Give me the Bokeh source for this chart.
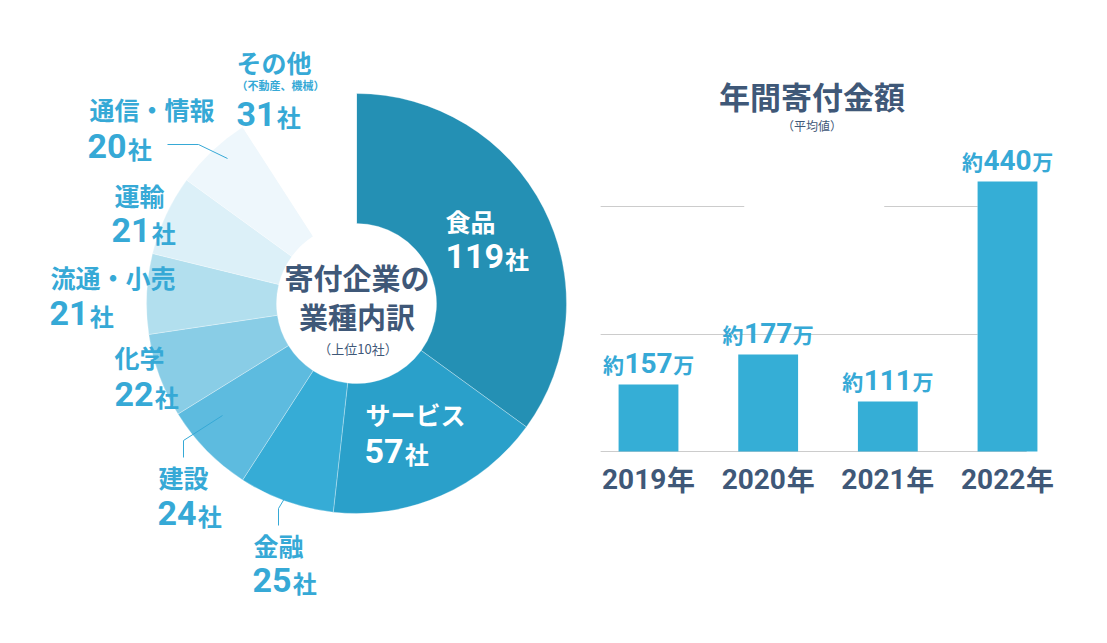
import math
from bokeh.plotting import figure
from bokeh.models import Range1d, ColumnDataSource
from bokeh.layouts import row
from bokeh.embed import file_html
from bokeh.resources import INLINE
from bokeh.core.properties import value

# ---------------- data ----------------
industries = ["食品", "サービス", "金融", "建設", "化学", "流通・小売", "運輸", "通信・情報", "その他"]
companies = [119, 57, 25, 24, 22, 21, 21, 20, 31]
other_note = "（不動産、機械）"
center_title = ["寄付企業の", "業種内訳"]
center_note = "（上位10社）"

years = ["2019", "2020", "2021", "2022"]
donation_man_yen = [157, 177, 111, 440]
bar_heights = [67, 97, 50, 270]      # bar lengths as drawn in the reference (not to scale)
grid_levels = [117, 245]
bar_title = "年間寄付金額"
bar_note = "（平均値）"

# ---------------- style ----------------
JP = value("Noto Sans CJK JP")
NUM = value("Roboto")
NAVY = "#3f5878"
BLUE = "#36a9d6"
BAR = "#35aed6"
GRID = "#cccccc"
slice_colors = ["#2490b4", "#2aa0ca", "#36acd6", "#5dbbdf", "#89cde6",
                "#b2dfee", "#dcf0f8", "#eef7fc", "#ffffff"]
H = 627
WA, WB = 580, 511
CX, CY = 356, 303
R_OUT, R_IN = 210, 80
DIG = 0.5625  # Roboto digit advance (em)
OFF = 0       # page offset of the figures in the photographed picture

# label layout (picture pixel coordinates): name-left, name-center-y, number-left, number-bottom
label_layout = [
    (445, 220, 445, 268),
    (365, 413, 364, 463),
    (253, 544, 252, 592),
    (158, 476, 157, 525),
    (114, 356, 114, 406),
    (50, 276, 49, 325),
    (114, 194, 111, 242),
    (89, 108, 87, 158),
    (236, 61, 236, 126),
]
inside = [True, True] + [False] * 7
leaders = [
    [(167, 144), (198, 144), (227, 158)],
    [(222, 415), (183, 440), (183, 457)],
    [(284, 498), (278, 508), (278, 525)],
]

def dx(X):
    return X - CX

def dy(Y):
    return CY - Y

def clean(p):
    p.axis.visible = False
    p.grid.visible = False
    p.outline_line_color = None
    p.background_fill_color = "white"
    p.border_fill_color = "white"
    p.min_border = 0

# ---------------- donut ----------------
pd_ = figure(width=WA, height=H, x_range=Range1d(OFF - CX, OFF + WA - CX),
             y_range=Range1d(CY - (OFF + H), CY - OFF), output_backend="svg",
             toolbar_location=None, min_border=0)
clean(pd_)

total = sum(companies)
starts, ends = [], []
cum = 0
for c in companies:
    starts.append(math.pi / 2 - 2 * math.pi * cum / total)
    cum += c
    ends.append(math.pi / 2 - 2 * math.pi * cum / total)
wsrc = ColumnDataSource(dict(start=starts, end=ends, color=slice_colors))
pd_.annular_wedge(x=0, y=0, inner_radius=R_IN, outer_radius=R_OUT,
                  start_angle="start", end_angle="end", direction="clock",
                  fill_color="color", line_color="white", line_width=0.6,
                  line_alpha=0.5, source=wsrc)

for pts in leaders:
    pd_.line([dx(p[0]) for p in pts], [dy(p[1]) for p in pts], line_color=BLUE, line_width=1)

tcol = ["white" if f else BLUE for f in inside]
name_src = ColumnDataSource(dict(
    x=[dx(l[0]) for l in label_layout], y=[dy(l[1]) for l in label_layout],
    text=industries, color=tcol))
pd_.text(x="x", y="y", text="text", text_color="color", source=name_src,
         text_font=JP, text_font_style="bold", text_font_size="25px",
         text_align="left", text_baseline="middle")

num_txt = [str(c) for c in companies]
num_src = ColumnDataSource(dict(
    x=[dx(l[2]) for l in label_layout], y=[dy(l[3] - 12.5) for l in label_layout],
    text=num_txt, color=tcol))
pd_.text(x="x", y="y", text="text", text_color="color", source=num_src,
         text_font=NUM, text_font_style="bold", text_font_size="34px",
         text_align="left", text_baseline="middle")
sha_src = ColumnDataSource(dict(
    x=[dx(l[2]) + len(t) * DIG * 34 + 2 for l, t in zip(label_layout, num_txt)],
    y=[dy(l[3] - 10.5) for l in label_layout],
    text=["社"] * len(companies), color=tcol))
pd_.text(x="x", y="y", text="text", text_color="color", source=sha_src,
         text_font=JP, text_font_style="bold", text_font_size="24px",
         text_align="left", text_baseline="middle")

pd_.text(x=[dx(236)], y=[dy(84)], text=[other_note], text_color=BLUE,
         text_font=JP, text_font_style="bold", text_font_size="11px",
         text_align="left", text_baseline="middle")

pd_.text(x=[dx(356.5), dx(356.5)], y=[dy(276), dy(315)], text=center_title,
         text_color=NAVY, text_font=JP, text_font_style="bold", text_font_size="29px",
         text_align="center", text_baseline="middle")
pd_.text(x=[dx(357.5)], y=[dy(348)], text=[center_note], text_color=NAVY,
         text_font=JP, text_font_size="13px", text_align="center", text_baseline="middle")

# ---------------- bars ----------------
S = 119.67
X0 = 648
pb = figure(width=WB, height=H, x_range=Range1d((OFF + WA - X0) / S, (OFF + WA + WB - X0) / S),
            y_range=Range1d(451 - (OFF + H), 451 - OFF), output_backend="svg",
            toolbar_location=None, min_border=0)
clean(pb)

xs = list(range(len(years)))
# grid lines (broken like the reference)
pb.segment(x0=[-0.40, -0.40, 1.97], y0=[grid_levels[0], grid_levels[1], grid_levels[1]],
           x1=[2.75, 0.80, 2.75], y1=[grid_levels[0], grid_levels[1], grid_levels[1]],
           line_color=GRID, line_width=1)
pb.segment(x0=[-0.40], y0=[0], x1=[3.16], y1=[0], line_color=GRID, line_width=1.2)

pb.vbar(x=xs, top=bar_heights, bottom=0, width=0.5, fill_color=BAR, line_color=None)

val_txt = [str(v) for v in donation_man_yen]
wdig = [len(t) * DIG * 28 for t in val_txt]
vsrc = ColumnDataSource(dict(x=xs, y=[h + 22 for h in bar_heights],
                             y2=[h + 21 for h in bar_heights], text=val_txt,
                             xl=[-w / 2 - 1 for w in wdig], xr=[w / 2 + 1 for w in wdig]))
pb.text(x="x", y="y", text="text", source=vsrc, text_color=BLUE, text_font=NUM,
        text_font_style="bold", text_font_size="28px", text_align="center",
        text_baseline="middle")
pb.text(x="x", y="y2", text=value("約"), x_offset="xl", source=vsrc, text_color=BLUE,
        text_font=JP, text_font_style="bold", text_font_size="21px", text_align="right",
        text_baseline="middle")
pb.text(x="x", y="y2", text=value("万"), x_offset="xr", source=vsrc, text_color=BLUE,
        text_font=JP, text_font_style="bold", text_font_size="21px", text_align="left",
        text_baseline="middle")

ywd = len(years[0]) * DIG * 28
ytot = ywd + 2 + 28
ysrc = ColumnDataSource(dict(x=xs, y=[-27] * len(xs), text=years,
                             xl=[-ytot / 2] * len(xs), xr=[-ytot / 2 + ywd + 2] * len(xs)))
pb.text(x="x", y="y", text="text", x_offset="xl", source=ysrc, text_color=NAVY,
        text_font=NUM, text_font_style="bold", text_font_size="28px", text_align="left",
        text_baseline="middle")
pb.text(x="x", y="y", text=value("年"), x_offset="xr", source=ysrc, text_color=NAVY,
        text_font=JP, text_font_style="bold", text_font_size="28px", text_align="left",
        text_baseline="middle")

tx = (811.5 - X0) / S
pb.text(x=[tx], y=[451 - 95], text=[bar_title], text_color=NAVY, text_font=JP,
        text_font_style="bold", text_font_size="31px", text_align="center",
        text_baseline="middle")
pb.text(x=[tx], y=[451 - 125], text=[bar_note], text_color=NAVY, text_font=JP,
        text_font_size="12px", text_align="center", text_baseline="middle")

layout = row(pd_, pb)
open("out.html", "w").write(file_html(layout, INLINE))
